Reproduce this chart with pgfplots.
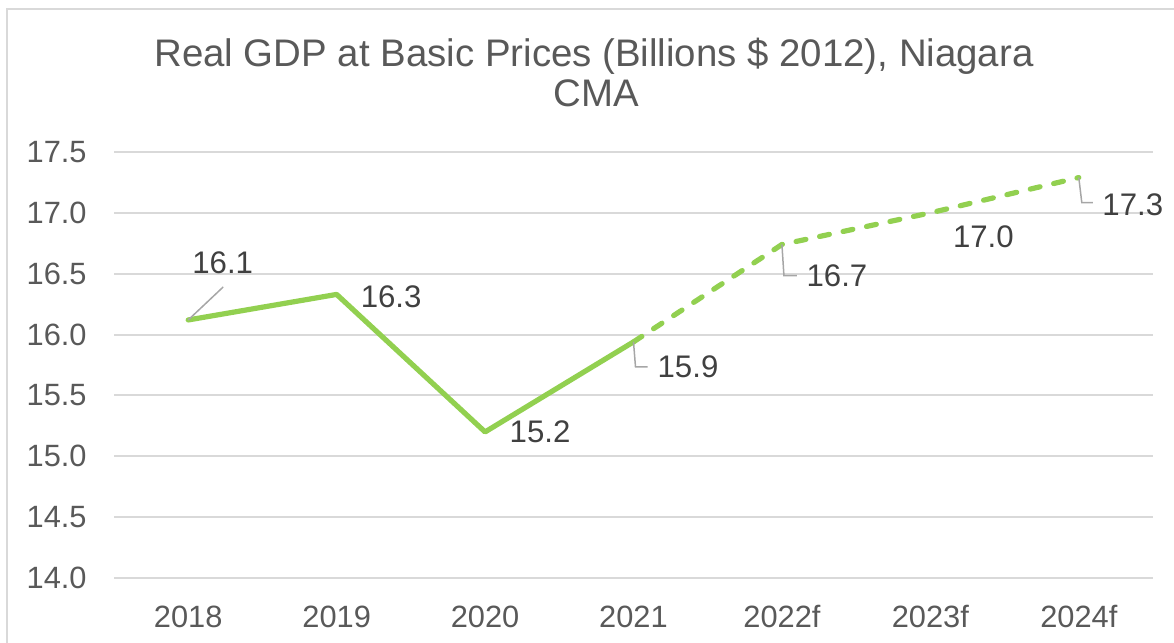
\documentclass[border=0pt]{standalone}
\usepackage{pgfplots}
\pgfplotsset{compat=1.18}
\usepackage{fontspec}
\setmainfont{Liberation Sans}
\definecolor{gdpgreen}{HTML}{92D050}
\definecolor{gridgray}{HTML}{D9D9D9}
\definecolor{labgray}{HTML}{595959}
\definecolor{datagray}{HTML}{404040}
\definecolor{leadgray}{HTML}{A6A6A6}
\begin{document}
\begin{tikzpicture}
\useasboundingbox (0,0) rectangle (587pt,321.5pt);
\begin{scope}
\clip (0,0) rectangle (587pt,321.5pt);
\draw[gridgray, line width=0.9pt] (3.5pt,317pt) rectangle (620pt,-20pt);
\node[anchor=base, font=\fontsize{19.2}{23}\selectfont, text=labgray] at (297pt,288pt) {Real GDP at Basic Prices (Billions \$ 2012), Niagara};
\node[anchor=base, font=\fontsize{19.2}{23}\selectfont, text=labgray] at (298pt,268pt) {CMA};
\begin{axis}[
  at={(57pt,32.5pt)}, anchor=south west,
  scale only axis, width=519.5pt, height=213pt,
  xmin=-0.5, xmax=6.5, ymin=14, ymax=17.5,
  xtick={0,1,2,3,4,5,6},
  xticklabels={2018,2019,2020,2021,2022f,2023f,2024f},
  ytick={14,14.5,15,15.5,16,16.5,17,17.5},
  /pgf/number format/assume math mode=true,
  yticklabel style={/pgf/number format/fixed, /pgf/number format/fixed zerofill, /pgf/number format/precision=1},
  ymajorgrids, grid style={draw=gridgray, line width=1pt},
  axis line style={draw=none},
  major tick length=0pt,
  tick label style={font=\fontsize{15.4}{18}\selectfont, text=labgray, inner sep=0pt},
  yticklabel style={anchor=east, xshift=-13.5pt},
  xticklabel style={anchor=base, yshift=-25pt},
  clip=false,
]
\addplot[gdpgreen, line width=2.6pt, line join=round, line cap=round] coordinates {
  (0,16.12) (1,16.33) (2,15.20) (3,15.94)
};
\addplot[gdpgreen, line width=2.6pt, line join=round, line cap=round, dash pattern=on 5pt off 7pt] coordinates {
  (3,15.94) (4,16.74) (5,17.00) (6,17.29)
};
% leader lines
\draw[leadgray, line width=0.75pt] (axis cs:0,16.12) -- ++(17.5pt,16.5pt);
\draw[leadgray, line width=0.75pt] (axis cs:3,15.94) -- ++(1pt,-12.5pt) -- ++(6pt,0pt);
\draw[leadgray, line width=0.75pt] (axis cs:4,16.74) -- ++(1pt,-15.5pt) -- ++(6.5pt,0pt);
\draw[leadgray, line width=0.75pt] (axis cs:6,17.29) -- ++(1.5pt,-12.5pt) -- ++(5.5pt,0pt);
\addplot[draw=none, mark=none,
  nodes near coords={\pgfmathprintnumber[fixed,fixed zerofill,precision=1]{\pgfplotspointmeta}},
  point meta=\thisrow{y},
  visualization depends on={value \thisrow{dx}\as\dx},
  visualization depends on={value \thisrow{dy}\as\dy},
  every node near coord/.append style={anchor=center, inner sep=0pt, xshift=\dx pt, yshift=\dy pt,
    font=\fontsize{15.6}{18}\selectfont, text=datagray},
] table {
x y dx dy
0 16.12 17.25 28.5
1 16.33 27.25 -1
2 15.20 27.5 0
3 15.94 27.25 -12.25
4 16.74 27.5 -15.5
5 17.00 26.5 -12
6 17.29 27 -13.5
};
\end{axis}
\end{scope}
\end{tikzpicture}
\end{document}
